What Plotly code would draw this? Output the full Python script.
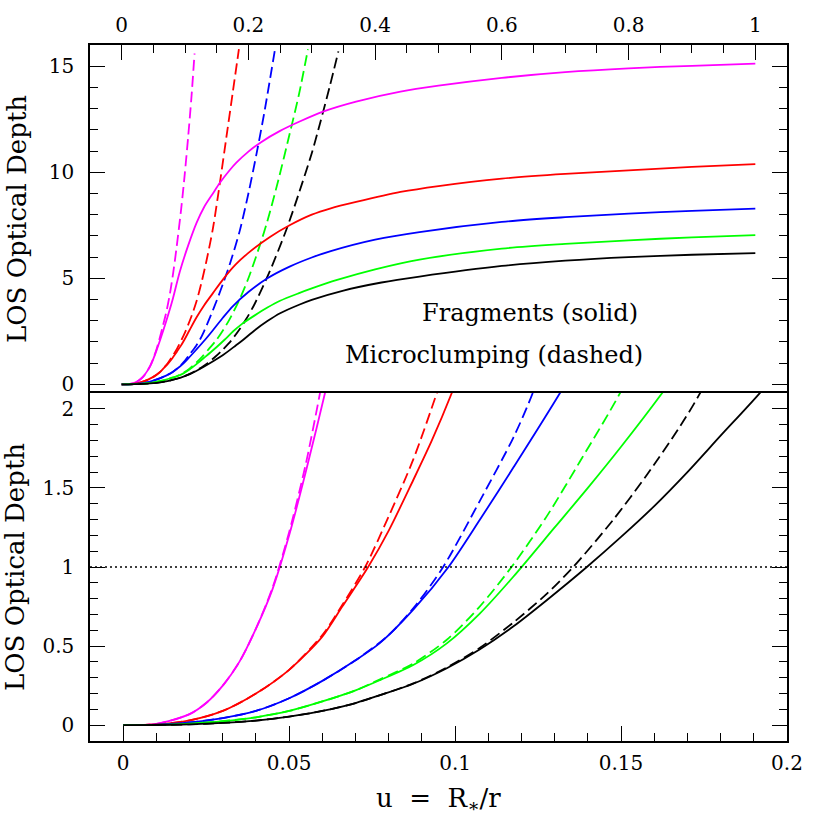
import plotly.graph_objects as go
from plotly.subplots import make_subplots

# ---- data: u = R*/r  vs  LOS optical depth ----
# fragments (solid lines)
u_frag_magenta = [0, 0.01, 0.02, 0.025, 0.03, 0.035, 0.04, 0.045, 0.05, 0.055, 0.0608, 0.07, 0.08,
                  0.0916, 0.105, 0.118, 0.13, 0.144, 0.155, 0.17, 0.181, 0.2, 0.22, 0.25, 0.28, 0.32, 0.37,
                  0.44, 0.5, 0.6, 0.7, 0.8, 0.9, 1.0]
tau_frag_magenta = [0, 0.008, 0.07, 0.14, 0.25, 0.4, 0.61, 0.86, 1.2, 1.6, 2.1, 2.95, 3.95,
                    5.3, 6.55, 7.6, 8.35, 9.0, 9.5, 10.08, 10.45, 10.97, 11.42, 11.95, 12.38, 12.88, 13.33,
                    13.8, 14.08, 14.45, 14.72, 14.9, 15.02, 15.12]

u_frag_red = [0, 0.01, 0.02, 0.03, 0.04, 0.05, 0.06, 0.066, 0.0738, 0.08, 0.0874, 0.093, 0.099, 0.107, 0.118,
              0.13, 0.144, 0.16, 0.18, 0.2, 0.234, 0.265, 0.3, 0.33, 0.37, 0.44, 0.5, 0.6, 0.7, 0.8, 0.9, 1.0]
tau_frag_red = [0, 0.005, 0.03, 0.09, 0.2, 0.35, 0.56, 0.75, 1.0, 1.23, 1.55, 1.8, 2.1, 2.55, 3.15,
                3.72, 4.3, 4.95, 5.65, 6.2, 6.95, 7.5, 8.0, 8.3, 8.6, 9.07, 9.35, 9.7, 9.92, 10.09, 10.25, 10.38]

u_frag_blue = [0, 0.01, 0.02, 0.03, 0.04, 0.05, 0.06, 0.07, 0.0774, 0.0874, 0.098, 0.1075, 0.1176, 0.1316,
               0.144, 0.16, 0.176, 0.2, 0.23, 0.265, 0.3, 0.33, 0.4, 0.47, 0.6, 0.7, 0.8, 0.9, 1.0]
tau_frag_blue = [0, 0.003, 0.017, 0.045, 0.09, 0.17, 0.28, 0.41, 0.52, 0.73, 1.0, 1.3, 1.63, 2.1,
                 2.55, 3.15, 3.7, 4.35, 5.0, 5.55, 5.98, 6.28, 6.82, 7.18, 7.66, 7.88, 8.05, 8.18, 8.28]

u_frag_green = [0, 0.01, 0.02, 0.03, 0.04, 0.05, 0.06, 0.07, 0.0774, 0.0874, 0.0975, 0.1075, 0.1176, 0.13,
                0.14, 0.15, 0.1624, 0.176, 0.19, 0.21, 0.23, 0.25, 0.28, 0.3, 0.34, 0.4, 0.47, 0.6, 0.7,
                0.8, 0.9, 1.0]
tau_frag_green = [0, 0.002, 0.01, 0.025, 0.05, 0.09, 0.15, 0.22, 0.285, 0.38, 0.517, 0.707, 0.94, 1.25,
                  1.5, 1.76, 2.1, 2.5, 2.85, 3.25, 3.62, 3.94, 4.3, 4.52, 4.92, 5.42, 5.88, 6.4, 6.62,
                  6.79, 6.93, 7.03]

u_frag_black = [0, 0.01, 0.02, 0.03, 0.04, 0.05, 0.06, 0.07, 0.0774, 0.0874, 0.0975, 0.1075, 0.1176, 0.1276,
                0.1397, 0.15, 0.16, 0.17, 0.18, 0.1914, 0.21, 0.23, 0.25, 0.28, 0.3, 0.35, 0.41, 0.47, 0.6,
                0.7, 0.8, 0.9, 1.0]
tau_frag_black = [0, 0.001, 0.005, 0.014, 0.029, 0.054, 0.09, 0.14, 0.19, 0.262, 0.36, 0.48, 0.625, 0.79,
                  1.0, 1.19, 1.385, 1.6, 1.83, 2.09, 2.55, 2.98, 3.35, 3.75, 3.98, 4.42, 4.8, 5.08, 5.58,
                  5.83, 6.0, 6.11, 6.19]

# microclumping (dashed lines)
u_micro_magenta = [0, 0.01, 0.02, 0.025, 0.03, 0.035, 0.04, 0.045, 0.05, 0.055, 0.0593, 0.065,
                   0.07, 0.076, 0.081, 0.086, 0.094, 0.0995, 0.105, 0.11, 0.115]
tau_micro_magenta = [0, 0.008, 0.07, 0.14, 0.25, 0.4, 0.61, 0.87, 1.22, 1.65, 2.1, 2.75,
                     3.35, 4.25, 5.2, 6.3, 8.3, 9.9, 11.7, 13.5, 15.6]

u_micro_red = [0, 0.01, 0.02, 0.03, 0.04, 0.05, 0.06, 0.066, 0.0729, 0.08, 0.0874, 0.0945, 0.1, 0.11,
               0.118, 0.126, 0.134, 0.144, 0.155, 0.165, 0.175, 0.185]
tau_micro_red = [0, 0.005, 0.03, 0.09, 0.2, 0.35, 0.57, 0.76, 1.0, 1.32, 1.68, 2.1, 2.45, 3.2,
                 3.9, 4.8, 5.85, 7.35, 9.5, 11.6, 13.7, 15.8]

u_micro_blue = [0, 0.01, 0.02, 0.03, 0.04, 0.05, 0.06, 0.07, 0.08, 0.0882, 0.0964, 0.1075, 0.1176, 0.1234,
                0.13, 0.14, 0.15, 0.16, 0.171, 0.186, 0.2, 0.213, 0.225, 0.242]
tau_micro_blue = [0, 0.003, 0.017, 0.045, 0.09, 0.17, 0.28, 0.41, 0.57, 0.76, 1.0, 1.42, 1.82, 2.1,
                  2.5, 3.2, 3.95, 4.75, 5.7, 7.2, 9.0, 10.9, 12.8, 15.8]

u_micro_green = [0, 0.01, 0.02, 0.03, 0.04, 0.05, 0.06, 0.07, 0.0774, 0.0874, 0.0975, 0.107, 0.117, 0.1276,
                 0.1377, 0.1497, 0.16, 0.17, 0.186, 0.2, 0.218, 0.23, 0.247, 0.265, 0.28, 0.294]
tau_micro_green = [0, 0.002, 0.01, 0.025, 0.05, 0.09, 0.15, 0.22, 0.29, 0.39, 0.54, 0.74, 1.0, 1.32,
                   1.67, 2.1, 2.55, 3.05, 4.0, 5.0, 6.55, 7.7, 9.6, 11.8, 13.7, 15.8]

u_micro_black = [0, 0.01, 0.02, 0.03, 0.04, 0.05, 0.06, 0.07, 0.0774, 0.0874, 0.0975, 0.1075, 0.1176, 0.1276,
                 0.1356, 0.1477, 0.1577, 0.1678, 0.1733, 0.185, 0.197, 0.21, 0.234, 0.26, 0.279, 0.3, 0.313,
                 0.328, 0.342]
tau_micro_black = [0, 0.001, 0.005, 0.014, 0.029, 0.054, 0.09, 0.14, 0.19, 0.264, 0.365, 0.49, 0.65, 0.83,
                   1.0, 1.3, 1.58, 1.89, 2.08, 2.55, 3.1, 3.8, 5.35, 7.3, 8.95, 10.9, 12.3,
                   14.0, 15.7]

colors = ['#ff00ff', '#ff0000', '#0000ff', '#00ff00', '#000000']
frag = [(u_frag_magenta, tau_frag_magenta), (u_frag_red, tau_frag_red), (u_frag_blue, tau_frag_blue),
        (u_frag_green, tau_frag_green), (u_frag_black, tau_frag_black)]
micro = [(u_micro_magenta, tau_micro_magenta), (u_micro_red, tau_micro_red), (u_micro_blue, tau_micro_blue),
         (u_micro_green, tau_micro_green), (u_micro_black, tau_micro_black)]

FONT = 'DejaVu Serif'

fig = make_subplots(rows=2, cols=1, vertical_spacing=0)

# same curves in both panels, the lower one is a zoom on small u
for row in (1, 2):
    for (u, tau), c in zip(micro, colors):
        fig.add_trace(go.Scatter(x=u, y=tau, mode='lines', hoverinfo='skip',
                                 line=dict(color=c, width=1.8, dash='11px,5px', shape='spline', smoothing=0.8)),
                      row=row, col=1)
    for (u, tau), c in zip(frag, colors):
        fig.add_trace(go.Scatter(x=u, y=tau, mode='lines', hoverinfo='skip',
                                 line=dict(color=c, width=1.8, shape='spline', smoothing=0.8)),
                      row=row, col=1)

fig.add_hline(y=1, row=2, col=1, line=dict(color='black', width=1.5, dash='2px,3px'))

axis_style = dict(showline=True, linecolor='black', linewidth=1.5, showgrid=False, zeroline=False,
                  ticks='inside', ticklen=15, tickwidth=1.3, tickcolor='black',
                  tickfont=dict(family=FONT, size=20, color='black'))

def minor(step):
    return dict(dtick=step, tick0=0, ticks='inside', ticklen=8, tickwidth=1.3, tickcolor='black', showgrid=False)

fig.update_xaxes(row=1, col=1, range=[-0.05, 1.05], side='top', tick0=0, dtick=0.2, mirror=False,
                 minor=minor(0.05), ticklabelstandoff=3, **axis_style)
fig.update_xaxes(row=2, col=1, range=[-0.01, 0.2], tick0=0, dtick=0.05, mirror=True,
                 minor=minor(0.01), ticklabelstandoff=3, **axis_style)
fig.update_yaxes(row=1, col=1, range=[-0.41, 16], tick0=0, dtick=5, mirror='ticks',
                 minor=minor(1), ticklabelstandoff=10, **axis_style)
fig.update_yaxes(row=2, col=1, range=[-0.1, 2.1], tick0=0, dtick=0.5, mirror='ticks',
                 minor=minor(0.1), ticklabelstandoff=10, **axis_style)

# axis titles and labels
title_font = dict(family=FONT, size=26, color='black')
fig.add_annotation(text='LOS Optical Depth', xref='paper', yref='paper', x=0, y=0.75, xshift=-73,
                   xanchor='center', yanchor='middle', textangle=-90, showarrow=False, font=title_font)
fig.add_annotation(text='LOS Optical Depth', xref='paper', yref='paper', x=0, y=0.25, xshift=-75,
                   xanchor='center', yanchor='middle', textangle=-90, showarrow=False, font=title_font)
fig.add_annotation(text='u\u00a0\u00a0=\u00a0\u00a0R<sub>∗</sub>/r', xref='paper', yref='paper',
                   x=0.5, y=0, yshift=-58, xanchor='center', yanchor='middle',
                   showarrow=False, font=title_font)

label_font = dict(family=FONT, size=24, color='black')
fig.add_annotation(text='Fragments (solid)', xref='x', yref='y', x=0.645, y=3.34,
                   xanchor='center', yanchor='middle', showarrow=False, font=label_font)
fig.add_annotation(text='Microclumping (dashed)', xref='x', yref='y', x=0.587, y=1.38,
                   xanchor='center', yanchor='middle', showarrow=False, font=label_font)

fig.update_layout(width=830, height=830, showlegend=False,
                  paper_bgcolor='white', plot_bgcolor='white',
                  margin=dict(l=90, r=43, t=45, b=89))

# drop the default 8px body margin so the figure fills the window exactly
fig.write_html('out.html', config={'displayModeBar': False},
               post_script="document.body.style.margin='0px';")
